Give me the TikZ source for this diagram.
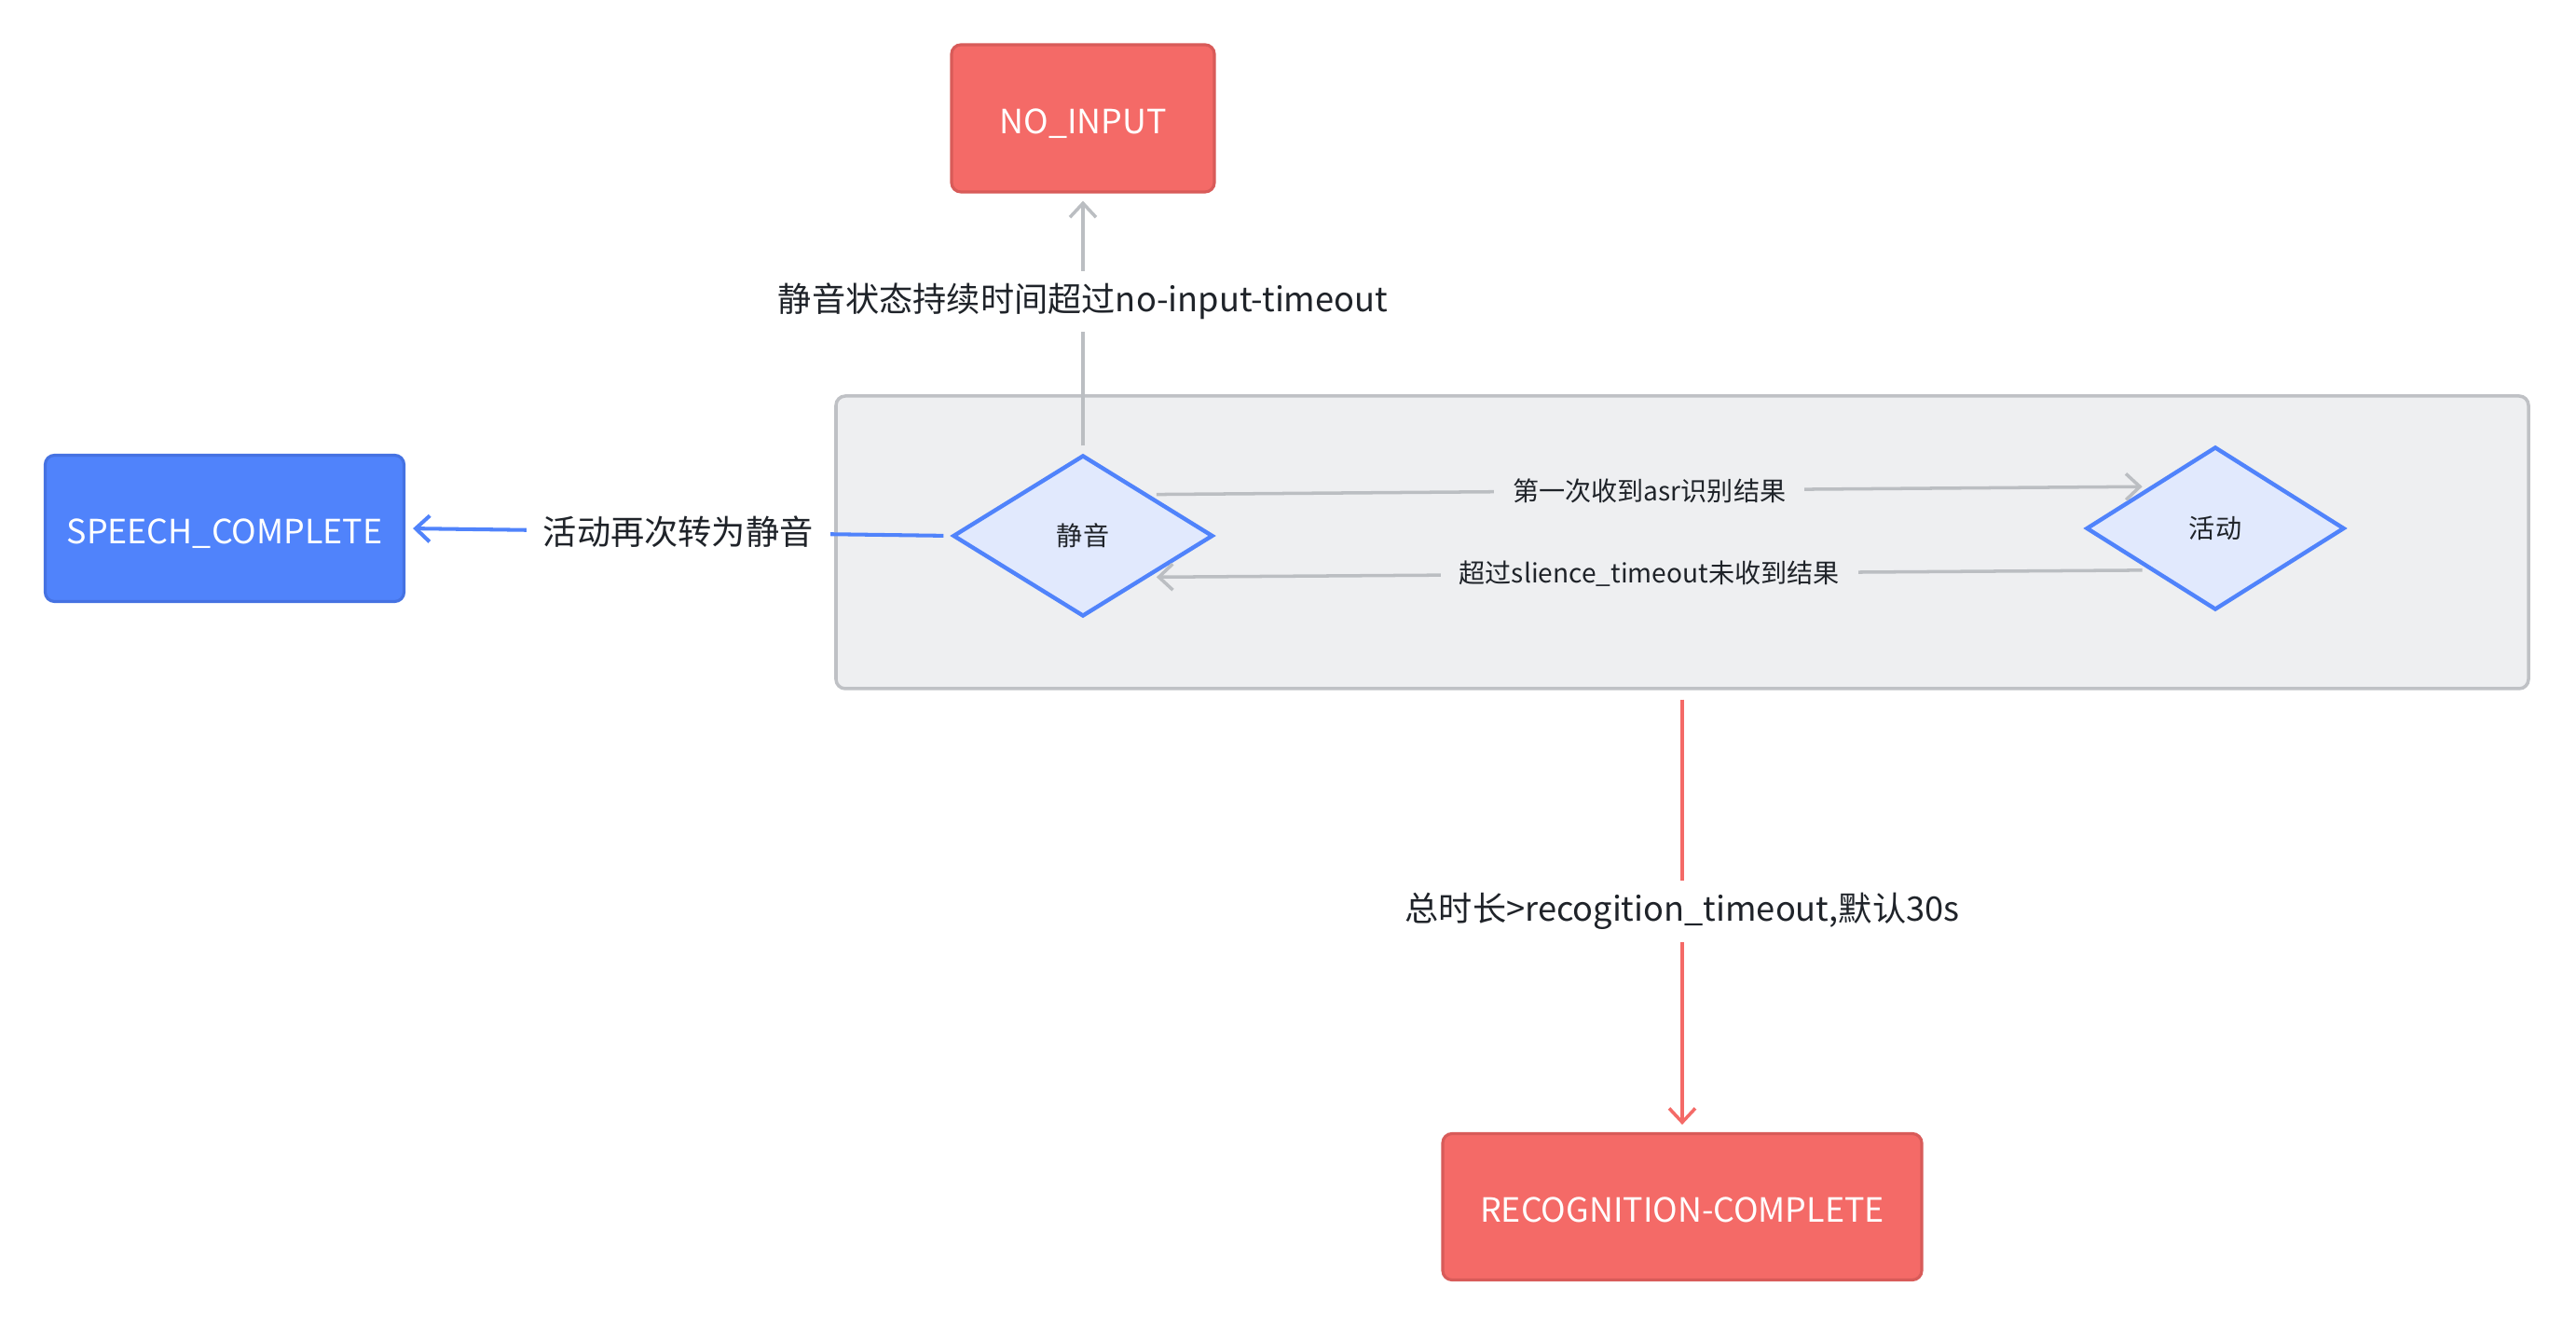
\documentclass[tikz,border=0pt]{standalone}
\usepackage{fontspec}
\setmainfont{Noto Sans CJK SC}
\usetikzlibrary{arrows.meta,shapes.geometric}
\definecolor{stink}{HTML}{1F2329}
\definecolor{stred}{HTML}{F46A67}
\definecolor{stredline}{HTML}{D85B59}
\definecolor{stblue}{HTML}{5083FB}
\definecolor{stblueline}{HTML}{4572E2}
\definecolor{stpale}{HTML}{E1E9FD}
\definecolor{stpanel}{HTML}{EEEFF1}
\definecolor{stpanelline}{HTML}{BFC1C5}
\definecolor{stgrey}{HTML}{BBBEC2}
\tikzset{
  endbox/.style={rectangle,rounded corners=1mm,line width=.9pt,text=white,font=\fontsize{10.2}{12}\selectfont,text height=9.6pt,text depth=0pt,minimum height=1.57cm},
  redbox/.style={endbox,draw=stredline,fill=stred},
  bluebox/.style={endbox,draw=stblueline,fill=stblue},
  state/.style={diamond,draw=stblue,fill=stpale,line width=1.25pt,inner sep=0pt,font=\fontsize{8}{10}\selectfont,text=stink},
  panel/.style={rectangle,rounded corners=1mm,draw=stpanelline,fill=stpanel,line width=1pt},
  flow/.style={-{Straight Barb[length=1.5mm,width=2.8mm]},line width=1pt,shorten <=.8mm,shorten >=.8mm},
  bigtag/.style={font=\fontsize{10.3}{12}\selectfont,text=stink,fill=white,inner xsep=1.8mm,inner ysep=1.3mm},
  smalltag/.style={font=\fontsize{8}{10}\selectfont,text=stink,fill=stpanel,inner xsep=2mm,inner ysep=1mm},
}
\begin{document}
\begin{tikzpicture}
  \useasboundingbox[fill=white] (0,0) rectangle (27.64,-14.24);

  % ---- group of the two states ----
  \node[panel,minimum width=18.16cm,minimum height=3.14cm] (panel) at (18.05,-5.82) {};
  \node[state,minimum width=2.79cm,minimum height=1.73cm] (quiet) at (11.62,-5.75) {静音};
  \node[state,minimum width=2.77cm,minimum height=1.75cm] (active) at (23.77,-5.67) {活动};

  % ---- end states ----
  \node[redbox,minimum width=2.82cm,minimum height=1.58cm] (noinput) at (11.62,-1.27) {NO\_INPUT};
  \node[bluebox,minimum width=3.85cm] (speech) at (2.41,-5.67) {SPEECH\_COMPLETE};
  \node[redbox,minimum width=5.14cm] (recog) at (18.05,-12.95) {RECOGNITION-COMPLETE};

  % ---- transitions ----
  \draw[flow,draw=stgrey] (quiet.north east) -- node[smalltag] {第一次收到asr识别结果} (active.north west);
  \draw[flow,draw=stgrey] (active.south west) -- node[smalltag] {超过slience\_timeout未收到结果} (quiet.south east);
  \draw[flow,draw=stgrey] (quiet) -- node[bigtag,pos=.585] {静音状态持续时间超过no-input-timeout} (noinput);
  \draw[flow,draw=stblue,line width=1.15pt] (quiet.west) -- node[bigtag] {活动再次转为静音} (speech.east);
  \draw[flow,draw=stred,shorten <=1mm] (panel.south) -- node[bigtag] {总时长>recogition\_timeout,默认30s} (recog.north);
\end{tikzpicture}
\end{document}
